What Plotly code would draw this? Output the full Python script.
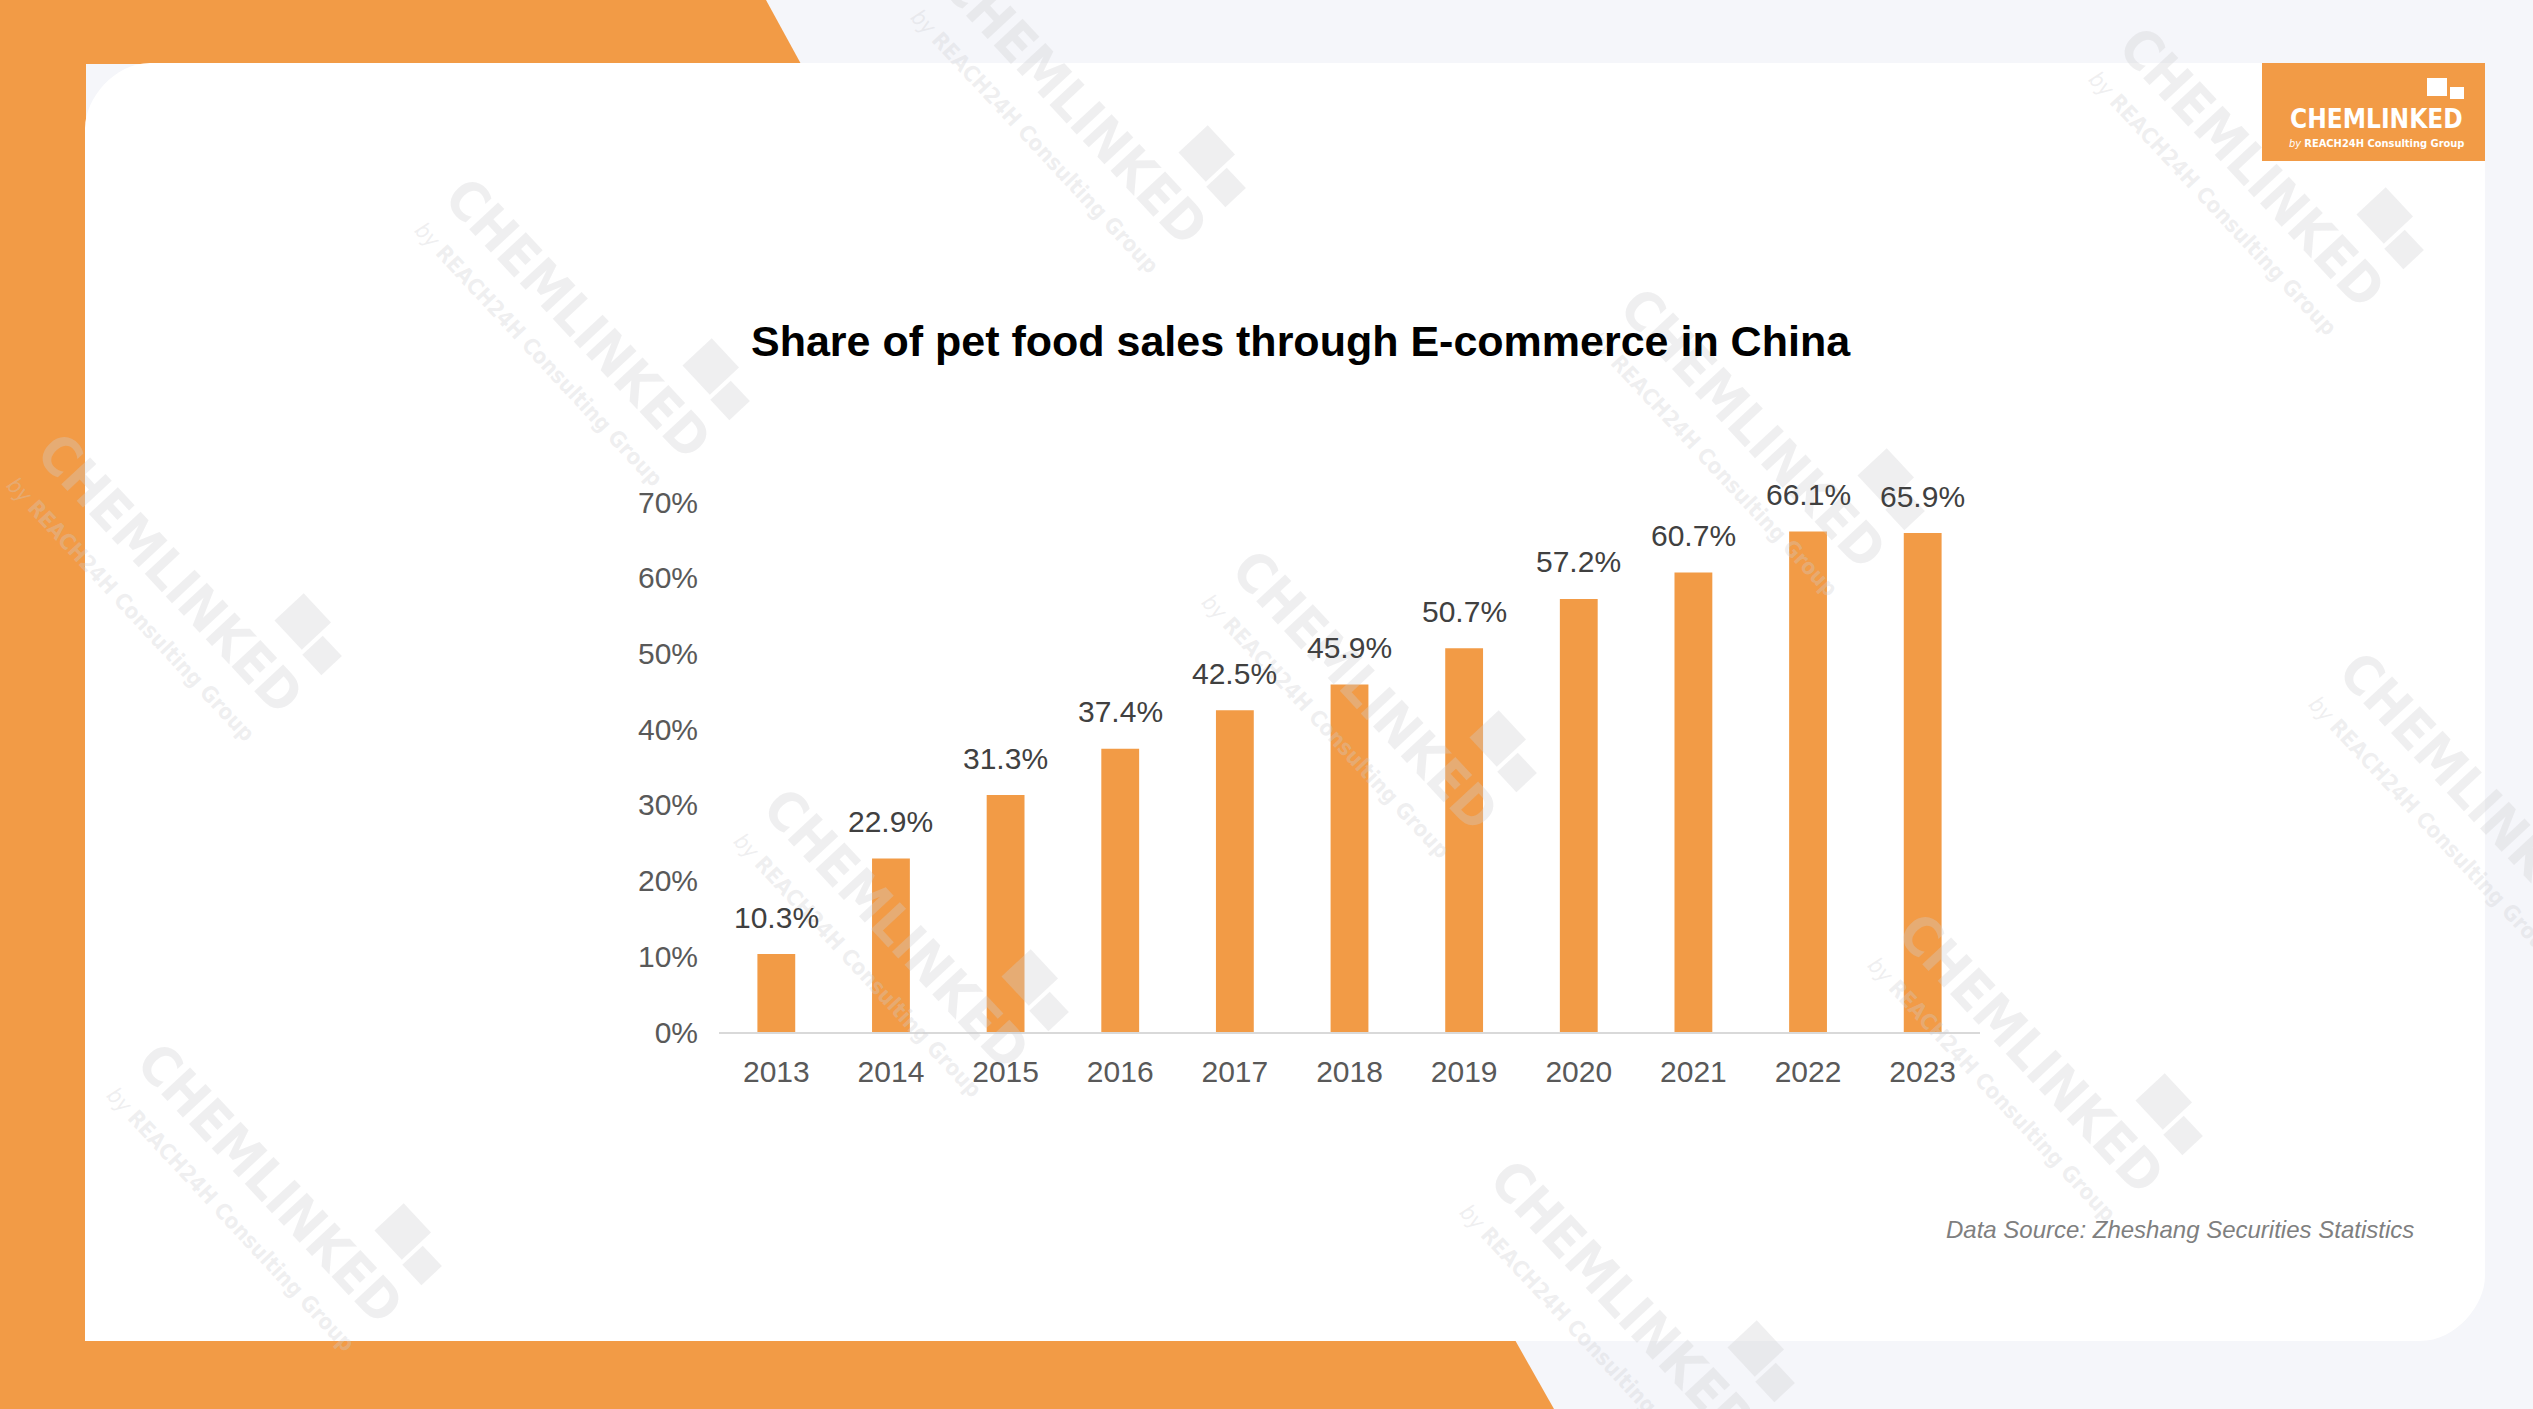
import math
import plotly.graph_objects as go

# ---------------- data ----------------
years = ["2013", "2014", "2015", "2016", "2017", "2018", "2019", "2020", "2021", "2022", "2023"]
share = [10.3, 22.9, 31.3, 37.4, 42.5, 45.9, 50.7, 57.2, 60.7, 66.1, 65.9]
y_ticks = [0, 10, 20, 30, 40, 50, 60, 70]
y_tick_text = ["0%", "10%", "20%", "30%", "40%", "50%", "60%", "70%"]
title_text = "Share of pet food sales through E-commerce in China"
source_text = "Data Source: Zheshang Securities Statistics"

# ---------------- layout constants ----------------
W, H = 2533, 1409
ORANGE = "#F29B46"
BG = "#F5F6FA"
FONT = "Liberation Sans, Arial, sans-serif"
NARROW = "Liberation Sans Narrow, Arial Narrow, DejaVu Sans Condensed, sans-serif"


def X(px):
    return px / W


def Y(py):
    return 1 - py / H


def path(points_cmds):
    out = []
    for cmd in points_cmds:
        c = cmd[0]
        if c == "Z":
            out.append("Z")
        else:
            pts = cmd[1:]
            out.append(c + " " + " ".join(f"{X(p[0]):.6f},{Y(p[1]):.6f}" for p in pts))
    return " ".join(out)


shapes = []
# orange frame pieces
shapes.append(dict(type="rect", xref="paper", yref="paper", x0=X(0), x1=X(86), y0=Y(1409), y1=Y(0),
                   fillcolor=ORANGE, line_width=0, layer="below"))
shapes.append(dict(type="path", xref="paper", yref="paper", layer="below", fillcolor=ORANGE, line_width=0,
                   path=path([("M", (0, 0)), ("L", (766, 0)), ("L", (801, 64)), ("L", (0, 64)), ("Z",)])))
shapes.append(dict(type="path", xref="paper", yref="paper", layer="below", fillcolor=ORANGE, line_width=0,
                   path=path([("M", (0, 1340)), ("L", (1515, 1340)), ("L", (1554, 1409)), ("L", (0, 1409)), ("Z",)])))

# white card with rounded top-left and bottom-right corners
L_, T_, R_, B_ = 85, 63, 2485, 1341
r = 65
k = 0.5523 * r
shapes.append(dict(type="path", xref="paper", yref="paper", layer="below", fillcolor="white", line_width=0,
                   path=path([("M", (L_, T_ + r)), ("L", (L_, B_)), ("L", (R_ - r, B_)),
                              ("C", (R_ - r + k, B_), (R_, B_ - k), (R_, B_ - r)),
                              ("L", (R_, T_)), ("L", (L_ + r, T_)),
                              ("C", (L_ + r - k, T_), (L_, T_ + k), (L_, T_ + r)), ("Z",)])))

# logo box
shapes.append(dict(type="rect", xref="paper", yref="paper", x0=X(2262), x1=X(2485), y0=Y(161), y1=Y(63),
                   fillcolor=ORANGE, line_width=0, layer="above"))
shapes.append(dict(type="rect", xref="paper", yref="paper", x0=X(2427), x1=X(2447), y0=Y(96), y1=Y(78),
                   fillcolor="white", line_width=0, layer="above"))
shapes.append(dict(type="rect", xref="paper", yref="paper", x0=X(2450), x1=X(2464), y0=Y(99), y1=Y(87),
                   fillcolor="white", line_width=0, layer="above"))

annotations = []

# watermarks
WM_COLOR = "rgba(205,205,210,0.33)"
theta = 47
ux, uy = math.cos(math.radians(theta)), math.sin(math.radians(theta))
nx, ny = -uy, ux
wm_centers = [(1074, 105), (578, 318), (170, 573), (1753, 428), (2252, 167), (1365, 690),
              (897, 929), (2472, 792), (2031, 1053), (270, 1183), (1623, 1300)]


def rot_square(cx, cy, s):
    pts = []
    for a, b in [(-1, -1), (1, -1), (1, 1), (-1, 1)]:
        px = cx + (a * s / 2) * ux + (b * s / 2) * nx
        py = cy + (a * s / 2) * uy + (b * s / 2) * ny
        pts.append((px, py))
    return path([("M", pts[0]), ("L", pts[1]), ("L", pts[2]), ("L", pts[3]), ("Z",)])


for cx, cy in wm_centers:
    annotations.append(dict(xref="paper", yref="paper", x=X(cx), y=Y(cy), text="<b>CHEMLINKED</b>",
                            showarrow=False, textangle=theta, xanchor="center", yanchor="middle",
                            font=dict(family=NARROW, size=54, color=WM_COLOR)))
    sx, sy = cx + 54 * nx, cy + 54 * ny
    annotations.append(dict(xref="paper", yref="paper", x=X(sx), y=Y(sy),
                            text="<i>by</i> <b>REACH24H Consulting Group</b>",
                            showarrow=False, textangle=theta, xanchor="center", yanchor="middle",
                            font=dict(family=NARROW, size=22, color=WM_COLOR)))
    bx, by = cx + 126 * ux - 64 * nx, cy + 126 * uy - 64 * ny
    shapes.append(dict(type="path", xref="paper", yref="paper", layer="above", fillcolor=WM_COLOR,
                       line_width=0, path=rot_square(bx, by, 40)))
    tx, ty = cx + 164 * ux - 55 * nx, cy + 164 * uy - 55 * ny
    shapes.append(dict(type="path", xref="paper", yref="paper", layer="above", fillcolor=WM_COLOR,
                       line_width=0, path=rot_square(tx, ty, 28)))

# logo text
annotations.append(dict(xref="paper", yref="paper", x=X(2376), y=Y(119), text="<b>CHEMLINKED</b>",
                        showarrow=False, xanchor="center", yanchor="middle",
                        font=dict(family=NARROW, size=26, color="white")))
annotations.append(dict(xref="paper", yref="paper", x=X(2376), y=Y(143),
                        text="<i>by</i> <b>REACH24H Consulting Group</b>",
                        showarrow=False, xanchor="center", yanchor="middle",
                        font=dict(family=NARROW, size=11, color="white")))

# title
annotations.append(dict(xref="paper", yref="paper", x=X(1301), y=Y(341), text=f"<b>{title_text}</b>",
                        showarrow=False, xanchor="center", yanchor="middle",
                        font=dict(family=FONT, size=43, color="#000000")))
# source
annotations.append(dict(xref="paper", yref="paper", x=X(2416), y=Y(1229), text=f"<i>{source_text}</i>",
                        showarrow=False, xanchor="right", yanchor="middle",
                        font=dict(family=FONT, size=24, color="#7F7F7F")))

# data labels (category axis: position by category index)
for i, v in enumerate(share):
    annotations.append(dict(xref="x", yref="y", x=i, y=v, text=f"{v}%", showarrow=False,
                            xanchor="center", yanchor="middle", yshift=37,
                            font=dict(family=FONT, size=30, color="#404040")))

fig = go.Figure()
fig.add_trace(go.Bar(x=years, y=share, marker=dict(color=ORANGE, line_width=0), hoverinfo="skip"))

fig.update_layout(
    width=W, height=H, margin=dict(l=0, r=0, t=0, b=0, autoexpand=False),
    paper_bgcolor=BG, plot_bgcolor="rgba(0,0,0,0)",
    showlegend=False, bargap=0.67,
    shapes=shapes, annotations=annotations,
    xaxis=dict(domain=[X(719), X(1980)], type="category", range=[-0.5, 10.5], autorange=False,
               automargin=False, showline=True, linecolor="#D9D9D9",
               linewidth=2, showgrid=False, ticks="", ticklabelstandoff=12,
               tickfont=dict(family=FONT, size=30, color="#595959")),
    yaxis=dict(domain=[Y(1032), Y(502)], range=[0, 70], autorange=False, automargin=False,
               tickvals=y_ticks, ticktext=y_tick_text,
               showgrid=False, zeroline=False, showline=False, ticks="", ticklabelstandoff=20,
               tickfont=dict(family=FONT, size=30, color="#595959")),
)

fig.write_html("out.html")
